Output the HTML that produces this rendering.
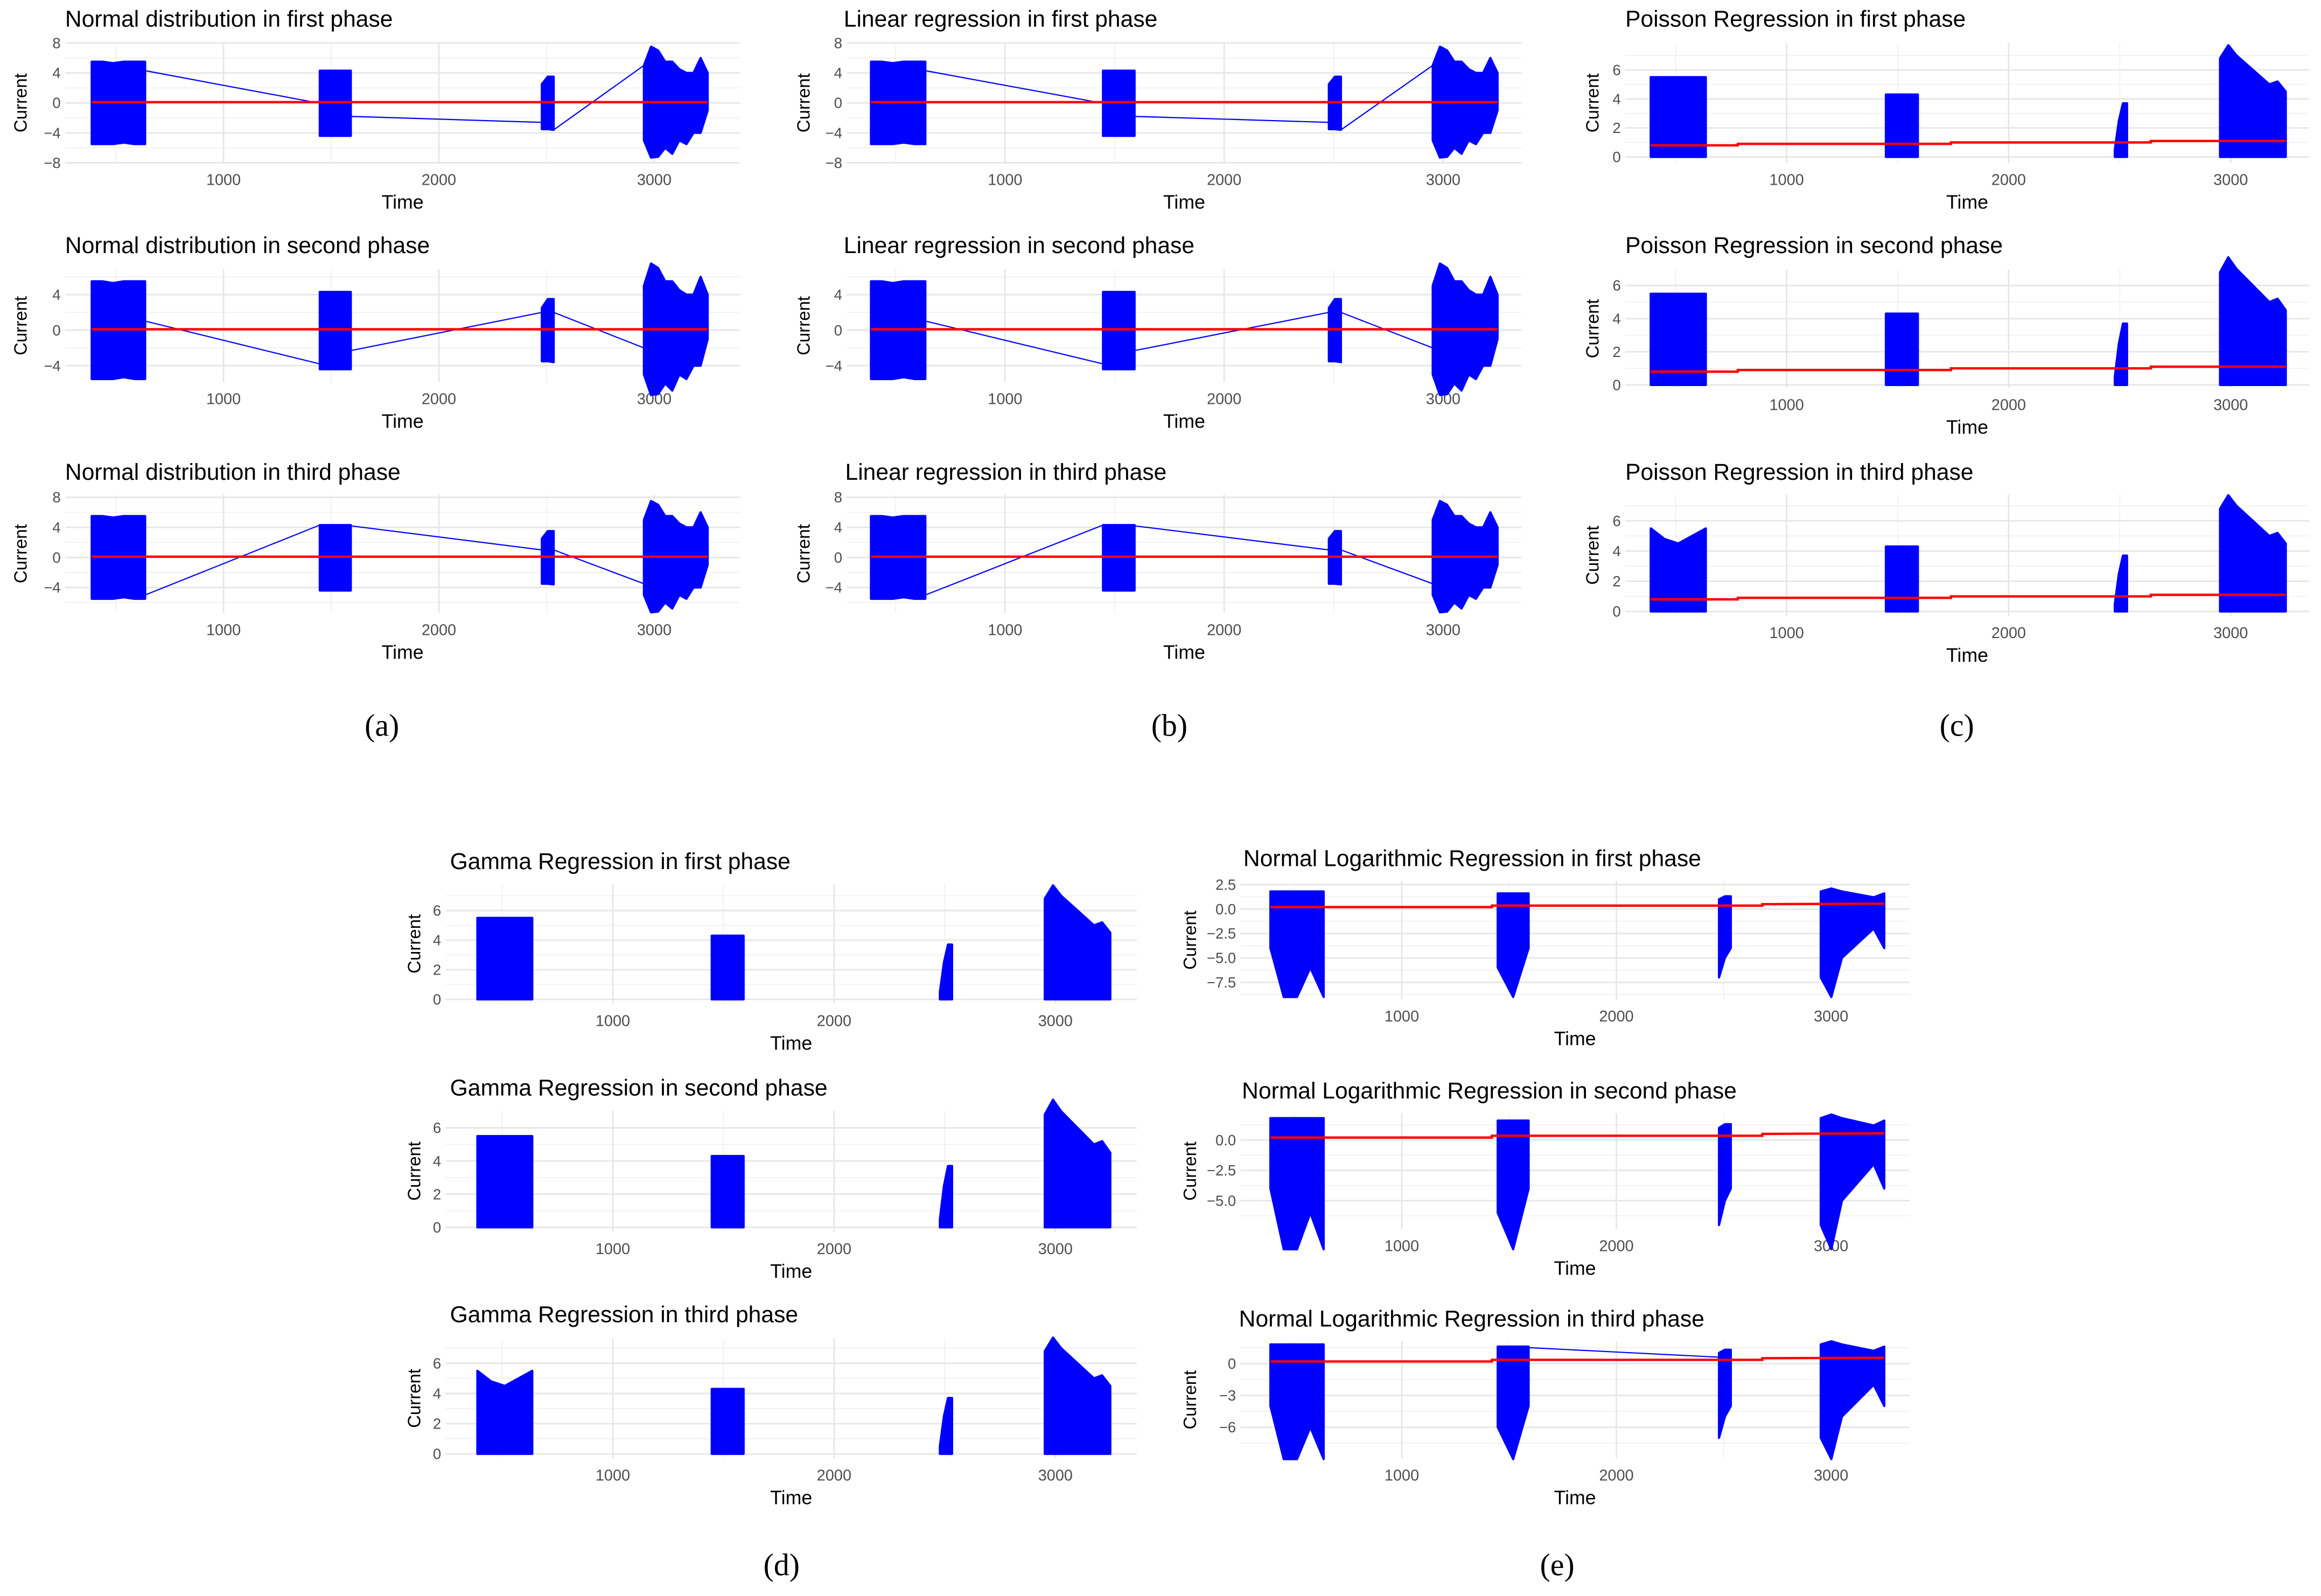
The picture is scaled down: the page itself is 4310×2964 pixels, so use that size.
<!DOCTYPE html>
<html><head><meta charset="utf-8"><style>
html,body{margin:0;padding:0;background:#fff;}
svg{display:block;}
</style></head><body>
<svg id="fig" xmlns="http://www.w3.org/2000/svg" width="4310" height="2964" viewBox="0 0 1568 1078" preserveAspectRatio="none" font-family="'Liberation Sans', sans-serif"></svg>
<script>
// ---- data ----
const burstSpans = [[388,636],[1447,1591],[2478,2533],[2952,3248]];
const normTop1 = [5.5,5.5,5.3,5.5,5.5,5.5];
const normBot1 = [-5.5,-5.5,-5.5,-5.3,-5.5,-5.5];
const normTop2 = [4.3,4.3,4.3];
const normBot2 = [-4.4,-4.4,-4.4];
const normTop3 = [2.5,3.5,3.5];
const normBot3 = [-3.5,-3.5,-3.6];
const normTop4 = [5,7.5,7.0,5.5,5.5,4.5,4,4,6,4];
const normBot4 = [-5,-7.3,-7.2,-6,-6.8,-5,-5.5,-4,-4,-1];
const normRed = [[388,0.1],[3248,0.1]];
const conn1 = [[[636,4.3],[1400,0.2]],[[1591,-1.8],[2478,-2.6]],[[2533,-3.6],[2952,5]]];
const conn2 = [[[640,1],[1447,-3.8]],[[1591,-2.3],[2478,2]],[[2533,2],[2952,-2]]];
const conn3 = [[[636,-5],[1447,4.3]],[[1591,4.2],[2478,1]],[[2533,1],[2952,-3.5]]];
const posTop1 = [5.5,5.5,5.5,5.5,5.5];
const posTop1b = [5.5,4.8,4.5,5.0,5.5];
const posTop2 = [4.3,4.3,4.3];
const posTop3 = [0.5,2.5,3.7,3.7];
const posTop4 = [6.8,7.7,7.0,6.5,6.0,5.5,5.0,5.2,4.5];
const zeroBot = [0,0];
const posRed = [[388,0.8],[780,0.8],[780,0.9],[1740,0.9],[1740,1.0],[2640,1.0],[2640,1.1],[3248,1.1]];
const logTop1 = [1.8,1.8,1.8,1.8];
const logBot1 = [-4,-9,-9,-6,-9];
const logTop2 = [1.6,1.6,1.6];
const logBot2 = [-6,-9,-4];
const logTop3 = [1.0,1.3,1.3];
const logBot3 = [-7,-5,-4];
const logTop4 = [1.8,2.1,1.8,1.6,1.4,1.2,1.6];
const logBot4 = [-7,-9,-5,-4,-3,-2,-4];
const logRed = [[388,0.2],[1420,0.2],[1420,0.35],[2680,0.35],[2680,0.5],[3248,0.55]];
const logConn3 = [[[1591,1.5],[2478,0.6]]];
const xTicks = [1000,2000,3000];

const normTops=[normTop1,normTop2,normTop3,normTop4], normBots=[normBot1,normBot2,normBot3,normBot4];
const posTops=[posTop1,posTop2,posTop3,posTop4], posTopsB=[posTop1b,posTop2,posTop3,posTop4];
const zeroBots=[zeroBot,zeroBot,zeroBot,zeroBot];
const logTops=[logTop1,logTop2,logTop3,logTop4], logBots=[logBot1,logBot2,logBot3,logBot4];

// ---- panels (layout) ----
const panels = [];
function addRow(tag,titles,tx,gl,gr,x1000,k,rowsY,tops,bots,conns,red,ylx){
  rowsY.forEach((r,i)=>{
    panels.push({name:tag+'-'+(i+1),title:titles[i],tx:tx[i]||tx[0],ty:r.ty,gl,gr,gt:r.gt,gb:r.gb,x1000,k,
      y0:r.y0,ppu:r.ppu,yticks:r.yticks,ylab:r.ylab,minor:r.minor,tops:(tops[i]||tops[0]),bots:(bots[i]||bots[0]),conn:conns[i],red,ylx});
  });
}
const aRows=[
 {ty:18,gt:29,gb:110,y0:69.5,ppu:5.06,yticks:[8,4,0,-4,-8],ylab:['8','4','0','−4','−8'],minor:[6,2,-2,-6]},
 {ty:171,gt:182,gb:258,y0:223,ppu:6,yticks:[4,0,-4],ylab:['4','0','−4'],minor:[6,2,-2]},
 {ty:324,gt:334,gb:414,y0:376.5,ppu:5.08,yticks:[8,4,0,-4],ylab:['8','4','0','−4'],minor:[6,2,-2,-6]}];
addRow('normal',['Normal distribution in first phase','Normal distribution in second phase','Normal distribution in third phase'],[44],44,500,151,0.1455,aRows,[normTops],[normBots],[conn1,conn2,conn3],normRed,14);
addRow('linear',['Linear regression in first phase','Linear regression in second phase','Linear regression in third phase'],[570,570,571],572,1028,679,0.148,aRows,[normTops],[normBots],[conn1,conn2,conn3],normRed,543);
const cRows=[
 {ty:18,gt:29,gb:110,y0:106,ppu:9.8,yticks:[0,2,4,6],ylab:['0','2','4','6'],minor:[1,3,5,7]},
 {ty:171,gt:182,gb:262,y0:260,ppu:11.2,yticks:[0,2,4,6],ylab:['0','2','4','6'],minor:[1,3,5]},
 {ty:324,gt:334,gb:416,y0:413,ppu:10.2,yticks:[0,2,4,6],ylab:['0','2','4','6'],minor:[1,3,5,7]}];
addRow('poisson',['Poisson Regression in first phase','Poisson Regression in second phase','Poisson Regression in third phase'],[1098],1098,1560,1207,0.150,cRows,[posTops,posTops,posTopsB],[zeroBots],[null,null,null],posRed,1076);
const dRows=[
 {ty:587,gt:597,gb:678,y0:675,ppu:10,yticks:[0,2,4,6],ylab:['0','2','4','6'],minor:[1,3,5,7]},
 {ty:740,gt:750,gb:832,y0:829,ppu:11.2,yticks:[0,2,4,6],ylab:['0','2','4','6'],minor:[1,3,5]},
 {ty:893,gt:904,gb:985,y0:982,ppu:10.2,yticks:[0,2,4,6],ylab:['0','2','4','6'],minor:[1,3,5,7]}];
addRow('gamma',['Gamma Regression  in first phase','Gamma Regression in second phase','Gamma Regression  in third phase'],[304],301,768,414,0.1495,dRows,[posTops,posTops,posTopsB],[zeroBots],[null,null,null],null,280);
const eRows=[
 {ty:585,gt:595,gb:675,y0:614,ppu:6.6,yticks:[2.5,0,-2.5,-5,-7.5],ylab:['2.5','0.0','−2.5','−5.0','−7.5'],minor:[1.25,-1.25,-3.75,-6.25,-8.75]},
 {ty:742,gt:752,gb:830,y0:770,ppu:8.2,yticks:[0,-2.5,-5],ylab:['0.0','−2.5','−5.0'],minor:[1.25,-1.25,-3.75,-6.25]},
 {ty:896,gt:906,gb:985,y0:921,ppu:7.17,yticks:[0,-3,-6],ylab:['0','−3','−6'],minor:[1.5,-1.5,-4.5,-7.5]}];
addRow('lognormal',['Normal Logarithmic Regression in first phase','Normal Logarithmic Regression in second phase','Normal Logarithmic Regression in third phase'],[840,839,837],838,1290,947,0.145,eRows,[logTops],[logBots],[null,null,logConn3],logRed,804);

const NS='http://www.w3.org/2000/svg';
const svg=document.getElementById('fig');
function mk(tag,attrs,parent){const e=document.createElementNS(NS,tag);for(const a in attrs)e.setAttribute(a,attrs[a]);(parent||svg).appendChild(e);return e;}

panels.forEach(p=>{
  const g=mk('g',{});
  
  
  const X=t=>p.x1000+(t-1000)*p.k;
  const Y=v=>p.y0-v*p.ppu;
  p.minor.forEach(v=>{const y=Y(v); if(y>=p.gt-1&&y<=p.gb+1){const l=mk('line',{x1:p.gl,x2:p.gr,y1:y,y2:y,stroke:'#f0f0f0','stroke-width':0.6},g);
    }});
  [500,1500,2500].forEach(t=>{const l=mk('line',{x1:X(t),x2:X(t),y1:p.gt,y2:p.gb,stroke:'#f0f0f0','stroke-width':0.6},g);
    });
  p.yticks.forEach((v,i)=>{const y=Y(v);
    const l=mk('line',{x1:p.gl,x2:p.gr,y1:y,y2:y,stroke:'#e6e6e6','stroke-width':1},g);
    
    const t=mk('text',{x:p.gl-3,y:y+3.5,'font-size':10,'text-anchor':'end',fill:'#4d4d4d'},g);t.textContent=p.ylab[i];
    });
  xTicks.forEach(v=>{const x=X(v);
    const l=mk('line',{x1:x,x2:x,y1:p.gt,y2:p.gb,stroke:'#e6e6e6','stroke-width':1},g);
    
    const t=mk('text',{x:x,y:p.gb+15,'font-size':10.5,'text-anchor':'middle',fill:'#4d4d4d'},g);t.textContent=v;
    });
  burstSpans.forEach((s,bi)=>{
    const top=p.tops[bi], bot=p.bots[bi];
    let d='';
    top.forEach((v,i)=>{const t=s[0]+(s[1]-s[0])*i/(top.length-1);d+=(i?'L':'M')+X(t).toFixed(2)+','+Y(v).toFixed(2);});
    for(let i=bot.length-1;i>=0;i--){const t=s[0]+(s[1]-s[0])*i/(bot.length-1);d+='L'+X(t).toFixed(2)+','+Y(bot[i]).toFixed(2);}
    const e=mk('path',{d:d+'Z',fill:'#0000ff',stroke:'#0000ff','stroke-width':1.5,'stroke-linejoin':'round'},g);
    
  });
  if(p.conn) p.conn.forEach(c=>{const e=mk('line',{x1:X(c[0][0]),y1:Y(c[0][1]),x2:X(c[1][0]),y2:Y(c[1][1]),stroke:'#0000ff','stroke-width':0.8},g);
    });
  if(p.red){const e=mk('polyline',{points:p.red.map(q=>X(q[0]).toFixed(2)+','+Y(q[1]).toFixed(2)).join(' '),fill:'none',stroke:'#ff0000','stroke-width':1.6},g);
    }
  const tt=mk('text',{x:p.tx,y:p.ty,'font-size':15.5,fill:'#000'},g);tt.textContent=p.title;
  
  const cy=(p.gt+p.gb)/2;
  const yl=mk('text',{x:p.ylx,y:cy+4,'font-size':12,'text-anchor':'middle',transform:'rotate(-90 '+p.ylx+' '+cy+')',fill:'#000'},g);yl.textContent='Current';
  
  const xl=mk('text',{x:(p.gl+p.gr)/2,y:p.gb+31,'font-size':13,'text-anchor':'middle',fill:'#000'},g);xl.textContent='Time';
  
});
[['(a)',258,497],['(b)',790,497],['(c)',1322,497],['(d)',528,1064],['(e)',1052,1064]].forEach(c=>{
  const t=mk('text',{x:c[1],y:c[2],'font-size':21,'text-anchor':'middle','font-family':"'Liberation Serif', serif",fill:'#000'});
  t.textContent=c[0];
  
  
});
</script>
</body></html>
